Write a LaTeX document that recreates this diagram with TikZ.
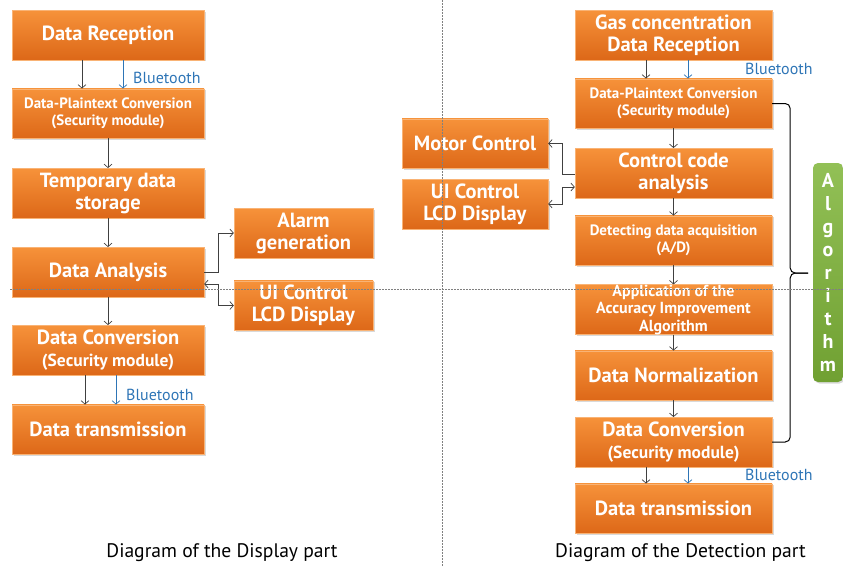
\documentclass[tikz,border=0pt]{standalone}
\usepackage{fontspec}
\setmainfont{PT Sans}
\usetikzlibrary{shadows,arrows.meta}
\definecolor{orTop}{RGB}{246,146,58}
\definecolor{orBot}{RGB}{221,104,24}
\definecolor{grTop}{RGB}{146,192,86}
\definecolor{grBot}{RGB}{112,160,50}
\definecolor{btblue}{RGB}{46,117,182}
\tikzset{>={Straight Barb[length=3.5pt,width=8pt]}}
\tikzset{
  stage/.style={rectangle, top color=orTop, bottom color=orBot, draw=orTop!70!white,
    line width=0.4pt, text=white, align=center, inner sep=0pt, minimum height=49.5pt,
    drop shadow={shadow xshift=1.5pt, shadow yshift=-1.5pt, opacity=0.3}},
  bigtext/.style={font=\bfseries\fontsize{20.5}{22}\selectfont},
  smalltext/.style={font=\bfseries\fontsize{15}{17}\selectfont},
  flow/.style={->, black!75, line width=0.7pt},
  bt/.style={->, btblue, line width=0.7pt},
  btlabel/.style={text=btblue, font=\fontsize{16}{17}\selectfont, anchor=west, inner sep=0pt},
  brace/.style={line width=1pt, rounded corners=5pt},
  frame/.style={gray, line width=0.6pt, dash pattern=on 2pt off 1pt},
  caption/.style={font=\fontsize{19.6}{21}\selectfont}
}
\newcommand{\subline}[1]{{\fontsize{17.5}{19}\selectfont #1}}

\begin{document}
\begin{tikzpicture}[x=1pt,y=-1pt]
\useasboundingbox (0,0) rectangle (843,566);

\node[stage, bigtext, minimum width=192pt] (recL) at (108,35) {Data Reception};
\node[stage, smalltext, minimum width=192pt] (plainL) at (108,113.5) {Data-Plaintext Conversion\\(Security module)};
\node[stage, bigtext, minimum width=192pt] (storeL) at (108,193) {Temporary data\\storage};
\node[stage, bigtext, minimum width=192pt] (anaL) at (108,272) {Data Analysis};
\node[stage, bigtext, minimum width=192pt] (convL) at (108,350) {Data Conversion\\\subline{(Security module)}};
\node[stage, bigtext, minimum width=192pt] (transL) at (108,429.5) {Data transmission};
\node[stage, bigtext, minimum width=139pt] (alarm) at (303.5,233) {Alarm\\generation};
\node[stage, bigtext, minimum width=139pt] (uiL) at (303.5,305.5) {UI Control\\LCD Display};

\node[stage, bigtext, minimum width=197pt] (recR) at (673.5,35) {Gas concentration\\Data Reception};
\node[stage, smalltext, minimum width=197pt] (plainR) at (673.5,103.5) {Data-Plaintext Conversion\\(Security module)};
\node[stage, bigtext, minimum width=197pt] (ctrl) at (673.5,173) {Control code\\analysis};
\node[stage, smalltext, minimum width=197pt] (acq) at (673.5,240.5) {Detecting data acquisition\\(A/D)};
\node[stage, minimum width=197pt, font=\bfseries\fontsize{16}{17.5}\selectfont] (acc) at (673.5,309.5) {Application of the\\Accuracy Improvement\\Algorithm};
\node[stage, bigtext, minimum width=197pt] (norm) at (673.5,375.5) {Data Normalization};
\node[stage, bigtext, minimum width=197pt] (convR) at (673.5,442) {Data Conversion\\\subline{(Security module)}};
\node[stage, bigtext, minimum width=197pt] (transR) at (673.5,508.5) {Data transmission};
\node[stage, bigtext, minimum width=146pt] (motor) at (475,143.5) {Motor Control};
\node[stage, bigtext, minimum width=146pt] (uiR) at (475,204) {UI Control\\LCD Display};

\node[rectangle, rounded corners=5pt, top color=grTop, bottom color=grBot, text=white,
  minimum width=30pt, minimum height=219pt, inner sep=0pt, align=center,
  font=\bfseries\fontsize{20}{23}\selectfont,
  drop shadow={shadow xshift=1.5pt, shadow yshift=-1.5pt, opacity=0.3}] (algo) at (828,272.5)
  {A\\l\\g\\o\\r\\i\\t\\h\\m};

\node[btlabel] (btA) at (133,78) {Bluetooth};
\node[btlabel] (btB) at (126,395) {Bluetooth};
\node[btlabel] (btC) at (745,69) {Bluetooth};
\node[btlabel] (btD) at (745,475) {Bluetooth};

\node[caption] (capL) at (222,553) {Diagram of the Display part};
\node[caption] (capR) at (680.5,553) {Diagram of the Detection part};

\draw[flow] ([xshift=-26pt]recL.south) -- ([xshift=-26pt]plainL.north);
\draw[bt] ([xshift=15pt]recL.south) -- ([xshift=15pt]plainL.north);
\draw[flow] (plainL) -- (storeL);
\draw[flow] (storeL) -- (anaL);
\draw[flow] (anaL) -- (convL);
\draw[flow] ([xshift=-23pt]convL.south) -- ([xshift=-23pt]transL.north);
\draw[bt] ([xshift=8pt]convL.south) -- ([xshift=8pt]transL.north);
\draw[flow] (anaL.east) -- ++(14,0) |- (alarm.west);
\draw[flow, <->] ([yshift=-12pt]anaL.east) -- ++(14,0) |- (uiL.west);

\draw[flow] ([xshift=-27.5pt]recR.south) -- ([xshift=-27.5pt]plainR.north);
\draw[bt] ([xshift=14.5pt]recR.south) -- ([xshift=14.5pt]plainR.north);
\draw[flow] (plainR) -- (ctrl);
\draw[flow] (ctrl) -- (acq);
\draw[flow] (acq) -- (acc);
\draw[flow] (acc) -- (norm);
\draw[flow] (norm) -- (convR);
\draw[flow] ([xshift=-27.5pt]convR.south) -- ([xshift=-27.5pt]transR.north);
\draw[bt] ([xshift=14.5pt]convR.south) -- ([xshift=14.5pt]transR.north);
\draw[flow] ([yshift=-1pt]ctrl.west) -- ++(-12,0) |- (motor.east);
\draw[flow, <->] ([yshift=-14pt]ctrl.west) -- ++(-12,0) |- (uiR.east);

\coordinate (tip) at (808,273);
\draw[brace] (plainR.east) -- ++(18,0) |- (tip);
\draw[brace] (convR.east) -- ++(18,0) |- (tip);

\draw[frame] (10,289) -- (843,289);
\draw[frame] (442,0) -- (442,566);
\end{tikzpicture}
\end{document}
